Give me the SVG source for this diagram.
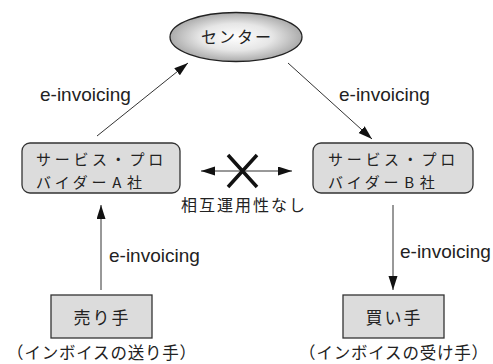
<svg xmlns="http://www.w3.org/2000/svg" width="493" height="364" viewBox="0 0 493 364">
<defs>
<radialGradient id="eg" cx="50%" cy="50%" r="50%">
<stop offset="0" stop-color="#ffffff"/>
<stop offset="0.55" stop-color="#e6e6e6"/>
<stop offset="1" stop-color="#ababab"/>
</radialGradient>
<marker id="ah" markerUnits="userSpaceOnUse" markerWidth="15" markerHeight="10" refX="14" refY="4.5" orient="auto-start-reverse" viewBox="0 0 15 10">
<path d="M0,0 L14,4.5 L0,9 z" fill="#111"/>
</marker>
<style>
.jp{font-family:"Noto Sans CJK JP","Noto Sans CJK SC",sans-serif;fill:#222;}
.bx{font-size:15px;letter-spacing:3.7px;}
.en{font-family:"Liberation Sans",Arial,sans-serif;font-size:19px;fill:#222;}
.box{fill:#dcdcdc;stroke:#333;stroke-width:1.3;}
.conn{stroke:#333;stroke-width:1;fill:none;marker-end:url(#ah);}
</style>
</defs>
<rect width="493" height="364" fill="#fff"/>

<g id="center">
<ellipse cx="236" cy="37" rx="66" ry="24.5" fill="url(#eg)" stroke="#222" stroke-width="1.3"/>
<text class="jp" x="237" y="43" font-size="16" letter-spacing="2" text-anchor="middle">センター</text>
</g>

<g id="providerA">
<rect class="box" x="22" y="143" width="158" height="50" rx="8"/>
<text class="jp bx" x="36" y="165">サービス・プロ</text>
<text class="jp bx" x="36" y="187.5">バイダー<tspan dx="2">A</tspan><tspan dx="2">社</tspan></text>
</g>

<g id="providerB">
<rect class="box" x="313" y="143" width="160" height="50" rx="8"/>
<text class="jp bx" x="328" y="165">サービス・プロ</text>
<text class="jp bx" x="328" y="187.5">バイダー<tspan dx="2">B</tspan><tspan dx="2">社</tspan></text>
</g>

<g id="seller">
<rect class="box" x="51" y="295" width="101" height="43" fill="#e4e4e4"/>
<text class="jp" x="102" y="324" font-size="17" letter-spacing="2" text-anchor="middle">売り手</text>
<text class="jp" x="102" y="359" font-size="16.5" letter-spacing="0.8" text-anchor="middle">（インボイスの送り手）</text>
</g>

<g id="buyer">
<rect class="box" x="343" y="295" width="101" height="43" fill="#e4e4e4"/>
<text class="jp" x="394" y="324" font-size="17" letter-spacing="2" text-anchor="middle">買い手</text>
<text class="jp" x="394" y="359" font-size="16.5" letter-spacing="0.8" text-anchor="middle">（インボイスの受け手）</text>
</g>

<g id="connectors">
<line class="conn" x1="97" y1="136" x2="188" y2="63"/>
<line class="conn" x1="288" y1="63" x2="372" y2="139"/>
<line class="conn" x1="101" y1="290" x2="101" y2="205" stroke="#666"/>
<line class="conn" x1="393" y1="205" x2="393" y2="290" stroke="#666"/>
<line class="conn" x1="201" y1="171" x2="292" y2="171" marker-start="url(#ah)"/>
<text class="en" x="40" y="101">e-invoicing</text>
<text class="en" x="339" y="101">e-invoicing</text>
<text class="en" x="109" y="262">e-invoicing</text>
<text class="en" x="400" y="258">e-invoicing</text>
</g>

<g id="no-interop">
<path d="M228,155 L257,187 M257,155 L228,187" stroke="#111" stroke-width="3.5" fill="none"/>
<text class="jp" x="244" y="211" font-size="16" letter-spacing="2" text-anchor="middle">相互運用性なし</text>
</g>
</svg>
